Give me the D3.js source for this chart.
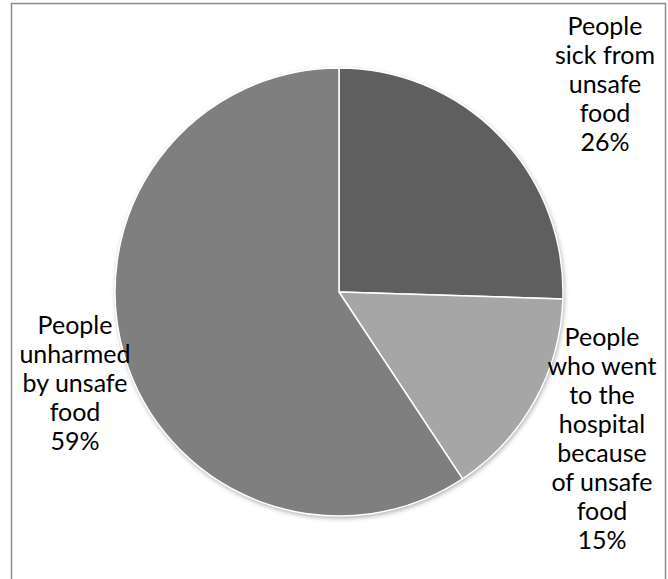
<!DOCTYPE html>
<html>
<head>
<meta charset="utf-8">
<script src="https://cdn.jsdelivr.net/npm/d3@7"></script>
<style>
  html, body { margin: 0; padding: 0; background: #fff; }
  svg { display: block; }
</style>
</head>
<body>
<div id="chart"></div>
<script>
// chart data (slice sizes, labels as printed)
var categories = ["People sick from unsafe food",
                  "People who went to the hospital because of unsafe food",
                  "People unharmed by unsafe food"];
var values = [25.5, 15.2, 59.3];
var sliceColors = ["#5f5f5f", "#a6a6a6", "#7f7f7f"];
// label lines, as wrapped in the original
var labelLines = [
  ["People", "sick from", "unsafe", "food", "26%"],
  ["People", "who went", "to the", "hospital", "because", "of unsafe", "food", "15%"],
  ["People", "unharmed", "by unsafe", "food", "59%"]
];

var width = 668, height = 579;
var cx = 339, cy = 292, radius = 224;
// where each label block sits (centre x, first baseline y)
var labelPos = [[605, 35], [602, 346], [75, 334]];
var lineStep = 29;

var svg = d3.select("#chart").append("svg")
    .attr("width", width)
    .attr("height", height);

var defs = svg.append("defs");
var shadow = defs.append("filter")
    .attr("id", "shadow")
    .attr("x", "-10%").attr("y", "-10%")
    .attr("width", "120%").attr("height", "120%");
shadow.append("feDropShadow")
    .attr("dx", 1).attr("dy", 2)
    .attr("stdDeviation", 2.5)
    .attr("flood-color", "#000")
    .attr("flood-opacity", 0.35);

// outer frame
svg.append("rect")
    .attr("x", 11.5).attr("y", 3.5)
    .attr("width", 654).attr("height", 590)
    .attr("fill", "none")
    .attr("stroke", "#8c8c8c")
    .attr("stroke-width", 1.5);

var pie = d3.pie().sort(null).value(function(d) { return d; });
var arc = d3.arc().innerRadius(0).outerRadius(radius);

var g = svg.append("g")
    .attr("transform", "translate(" + cx + "," + cy + ")");

g.append("circle")
    .attr("r", radius)
    .attr("fill", "#fff")
    .attr("filter", "url(#shadow)");

g.selectAll("path.slice")
  .data(pie(values))
  .enter().append("path")
    .attr("class", "slice")
    .attr("d", arc)
    .attr("fill", function(d, i) { return sliceColors[i]; })
    .attr("stroke", "#fff")
    .attr("stroke-width", 1.5)
    .attr("stroke-linejoin", "round");

// labels
labelLines.forEach(function(lines, i) {
  var t = svg.append("text")
      .attr("x", labelPos[i][0])
      .attr("y", labelPos[i][1])
      .attr("text-anchor", "middle")
      .attr("font-family", "Lato, 'Open Sans', sans-serif")
      .attr("font-size", "25px")
      .attr("fill", "#000");
  lines.forEach(function(line, j) {
    t.append("tspan")
      .attr("x", labelPos[i][0])
      .attr("y", labelPos[i][1] + j * lineStep)
      .text(line);
  });
});
</script>
</body>
</html>
